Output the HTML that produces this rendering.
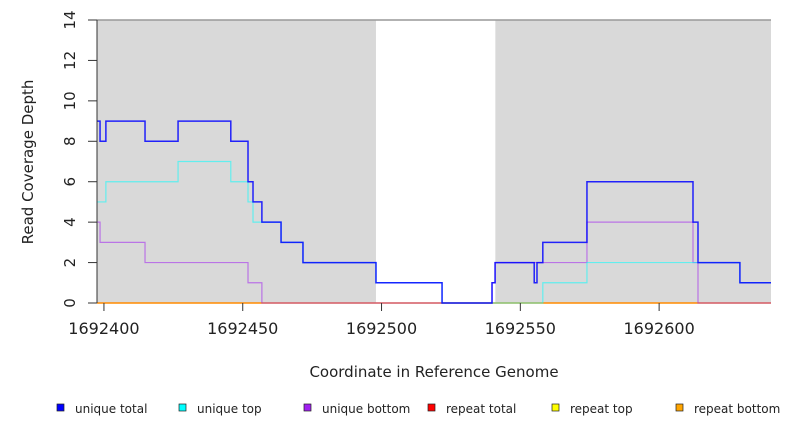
<!DOCTYPE html>
<html><head><meta charset="utf-8"><style>
body{margin:0;background:#fff}
svg{display:block;font-family:"DejaVu Sans","Liberation Sans",sans-serif}
</style></head><body>
<svg id="chart" width="792" height="432"></svg>
<script>
const xDomain=[1692397.5,1692640.3];
const yDomain=[0,14];
const xTicks=[1692400,1692450,1692500,1692550,1692600];
const yTicks=[0,2,4,6,8,10,12,14];
const shaded=[[1692397.5,1692498],[1692541,1692640.3]];
const uniqueTotal=[[1692397.5,9],[1692398.6,8],[1692400.7,9],[1692414.8,8],[1692426.7,9],[1692445.7,8],[1692451.9,6],[1692453.7,5],[1692456.9,4],[1692463.8,3],[1692471.7,2],[1692498,1],[1692521.8,0],[1692539.8,1],[1692540.9,2],[1692555,1],[1692556,2],[1692558.1,3],[1692574,6],[1692612.2,4],[1692614,2],[1692629.1,1]];
const uniqueTop=[[1692397.5,5],[1692400.7,6],[1692426.7,7],[1692445.7,6],[1692451.9,5],[1692453.7,4],[1692463.8,3],[1692471.7,2],[1692498,1],[1692521.8,0],[1692558.1,1],[1692574,2],[1692629.1,1]];
const uniqueBottom=[[1692397.5,4],[1692398.6,3],[1692414.8,2],[1692451.9,1],[1692456.9,0],[1692539.8,1],[1692540.9,2],[1692574,4],[1692612.2,2],[1692614,0]];
const repeatTotal=[[1692397.5,0]];
const repeatTop=[[1692397.5,0]];
const repeatBottom=[[1692397.5,0]];
const L=97,R=771,T=20,B=303;
const sx=v=>L+(v-xDomain[0])/(xDomain[1]-xDomain[0])*(R-L);
const sy=v=>B-(v-yDomain[0])/(yDomain[1]-yDomain[0])*(B-T);
const svg=document.getElementById('chart');
const NS='http://www.w3.org/2000/svg';
function mk(tag,attrs,parent){const e=document.createElementNS(NS,tag);for(const k in attrs)e.setAttribute(k,attrs[k]);(parent||svg).appendChild(e);return e;}
shaded.forEach(s=>{const r=mk('rect',{x:sx(s[0]),y:T,width:sx(s[1])-sx(s[0]),height:B-T,fill:'#d9d9d9'});

});
const topBorder=mk('line',{x1:L,x2:R,y1:T,y2:T,stroke:'#999','stroke-width':1.5});


function step(data,color,name,w,op){let d='';data.forEach((p,i)=>{const x=sx(p[0]),y=sy(p[1]);if(i==0)d+='M'+x+','+y;else d+='H'+x+'V'+y;});d+='H'+sx(xDomain[1]);
const p=mk('path',{d:d,fill:'none',stroke:color,'stroke-width':w,'stroke-opacity':op});

}
step(repeatBottom,'#ffa500','series-repeat-bottom',1.5,1);
step(repeatTop,'#ffff00','series-repeat-top',1,0.5);
step(repeatTotal,'#ff0000','series-repeat-total',1,0.4);
step(uniqueBottom,'#a020f0','series-unique-bottom',1.2,0.55);
step(uniqueTop,'#00ffff','series-unique-top',1.2,0.55);
step(uniqueTotal,'#0000ff','series-unique-total',1.5,0.85);
const ya=mk('line',{x1:L,x2:L,y1:T,y2:B,stroke:'#333','stroke-width':1});


yTicks.forEach(t=>{const y=sy(t);mk('line',{x1:88,x2:L,y1:y,y2:y,stroke:'#333'});
const tx=mk('text',{x:0,y:0,transform:`translate(75,${y}) rotate(-90)`,'text-anchor':'middle','font-size':15,fill:'#222'});tx.textContent=t;

});
xTicks.forEach(t=>{const x=sx(t);mk('line',{x1:x,x2:x,y1:B,y2:B+8,stroke:'#333'});
const tx=mk('text',{x:x,y:334,'text-anchor':'middle','font-size':16,fill:'#222'});tx.textContent=t;

});
const yt=mk('text',{transform:'translate(33,162) rotate(-90)','text-anchor':'middle','font-size':15,fill:'#222'});yt.textContent='Read Coverage Depth';


const xt=mk('text',{x:434,y:377,'text-anchor':'middle','font-size':15,fill:'#222'});xt.textContent='Coordinate in Reference Genome';


const legNames=['unique total','unique top','unique bottom','repeat total','repeat top','repeat bottom'];
const legColors=['#0000ff','#00ffff','#a020f0','#ff0000','#ffff00','#ffa500'];
const legX=[57,179,304,428,552,676];
legNames.forEach((n,i)=>{const g=mk('g',{});


mk('rect',{x:legX[i],y:404,width:7,height:7,fill:legColors[i],stroke:'#222','stroke-width':0.7},g);
const t=mk('text',{x:legX[i]+18,y:413,'font-size':12,fill:'#222'},g);t.textContent=n;});
</script>
</body></html>
